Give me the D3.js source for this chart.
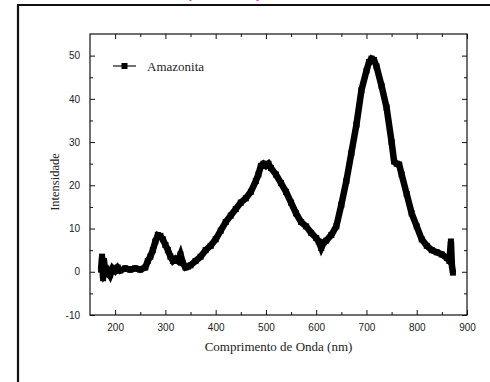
<!DOCTYPE html>
<html>
<head>
<meta charset="utf-8">
<script src="https://cdn.jsdelivr.net/npm/d3@7"></script>
<style>
  body { margin: 0; background: #fff; }
  svg { display: block; }
</style>
</head>
<body>
<div id="chart"></div>
<script>
// --- data
const wavelength = [172, 174, 176, 178, 180, 185, 190, 195, 200, 205, 210, 220, 230, 240, 250, 260, 265, 270, 275, 280,
  285, 290, 295, 300, 305, 310, 315, 320, 325, 330, 335, 340, 345, 350, 360, 370, 380, 390, 400, 410,
  420, 430, 440, 450, 460, 470, 480, 485, 490, 495, 500, 505, 510, 520, 530, 540, 550, 560, 570, 580,
  590, 600, 605, 610, 615, 620, 630, 640, 650, 660, 670, 680, 690, 700, 705, 710, 715, 720, 730, 740,
  750, 755, 760, 765, 770, 780, 790, 800, 810, 820, 830, 840, 850, 860, 865, 868, 870, 872];
const intensity = [0.5, 3.5, -1.5, 2.5, -0.5, 0.3, -0.8, 0.8, 0.2, 1.0, 0.3, 0.8, 0.5, 0.8, 0.5, 1.0, 2.5, 3.5, 5.0, 7.0,
  8.5, 8.3, 7.5, 6.2, 5.0, 3.5, 2.5, 3.0, 2.5, 4.0, 2.0, 1.0, 1.2, 1.5, 2.5, 3.5, 5.0, 6.0, 7.5, 9.5,
  11.5, 13.0, 14.5, 16.0, 17.0, 18.5, 21.0, 22.5, 24.5, 25.0, 24.5, 25.0, 24.0, 22.5, 20.5, 18.5, 16.0, 13.5, 11.5, 10.5,
  9.0, 7.8, 7.0, 5.5, 6.8, 7.2, 8.5, 10.5, 15.5, 21.0, 27.5, 34.0, 42.0, 46.5, 48.5, 49.3, 49.0, 47.5, 43.0, 38.0,
  30.0, 25.5, 25.0, 24.8, 22.5, 18.0, 13.5, 10.5, 7.5, 6.0, 5.0, 4.5, 4.0, 3.2, 2.5, 7.0, 1.5, -0.2];
const seriesName = 'Amazonita';
const xTicks = [200, 300, 400, 500, 600, 700, 800, 900];
const yTicks = [-10, 0, 10, 20, 30, 40, 50];
const xTitle = 'Comprimento de Onda (nm)';
const yTitle = 'Intensidade';

// --- setup dimensions
const width = 490;
const height = 382;
const plot = { left: 90, right: 467, top: 34, bottom: 315 };

const svg = d3.select('#chart')
  .append('svg')
  .attr('width', width)
  .attr('height', height);

// --- outer page frame (cut by the window)
svg.append('path')
  .attr('d', `M18,${height} L18,5 L${width},5`)
  .attr('fill', 'none')
  .attr('stroke', '#111')
  .attr('stroke-width', 2.2);

// title above the window, only its lowest pixels show
svg.append('text')
  .attr('x', 265)
  .attr('y', -2)
  .attr('text-anchor', 'middle')
  .attr('font-family', 'Liberation Sans, Arial, sans-serif')
  .attr('font-size', 14)
  .attr('font-weight', 'bold')
  .attr('fill', '#d63bd6')
  .text('Espectroscopia - Amazonita');

// --- scales
const x = d3.scaleLinear().domain([150, 900]).range([plot.left, plot.right]);
const y = d3.scaleLinear().domain([-10, 55]).range([plot.bottom, plot.top]);

const tickFont = 'Liberation Sans, Arial, sans-serif';
const titleFont = 'Liberation Serif, Times New Roman, serif';

// --- axes (ticks inside, mirrored)
const axisStyle = (g) => {
  g.select('.domain').remove();
  g.selectAll('.tick line').attr('stroke', '#111');
  g.selectAll('text').attr('font-family', tickFont).attr('font-size', 10).attr('fill', '#222');
};

const xMinor = d3.range(250, 900, 100);
const yMinor = d3.range(-5, 55, 10);
const plain = d => String(d);

// bottom
svg.append('g')
  .attr('transform', `translate(0,${plot.bottom})`)
  .call(d3.axisBottom(x).tickValues(xTicks).tickFormat(plain).tickSizeInner(-5).tickSizeOuter(0).tickPadding(9))
  .call(axisStyle);
svg.append('g')
  .attr('transform', `translate(0,${plot.bottom})`)
  .call(d3.axisBottom(x).tickValues(xMinor).tickSizeInner(-3).tickSizeOuter(0).tickFormat(''))
  .call(axisStyle);
// top
svg.append('g')
  .attr('transform', `translate(0,${plot.top})`)
  .call(d3.axisTop(x).tickValues(xTicks).tickSizeInner(-5).tickSizeOuter(0).tickFormat(''))
  .call(axisStyle);
svg.append('g')
  .attr('transform', `translate(0,${plot.top})`)
  .call(d3.axisTop(x).tickValues(xMinor).tickSizeInner(-3).tickSizeOuter(0).tickFormat(''))
  .call(axisStyle);
// left
svg.append('g')
  .attr('transform', `translate(${plot.left},0)`)
  .call(d3.axisLeft(y).tickValues(yTicks).tickFormat(plain).tickSizeInner(-5).tickSizeOuter(0).tickPadding(10))
  .call(axisStyle);
svg.append('g')
  .attr('transform', `translate(${plot.left},0)`)
  .call(d3.axisLeft(y).tickValues(yMinor).tickSizeInner(-3).tickSizeOuter(0).tickFormat(''))
  .call(axisStyle);
// right
svg.append('g')
  .attr('transform', `translate(${plot.right},0)`)
  .call(d3.axisRight(y).tickValues(yTicks).tickSizeInner(-5).tickSizeOuter(0).tickFormat(''))
  .call(axisStyle);
svg.append('g')
  .attr('transform', `translate(${plot.right},0)`)
  .call(d3.axisRight(y).tickValues(yMinor).tickSizeInner(-3).tickSizeOuter(0).tickFormat(''))
  .call(axisStyle);

// frame
svg.append('rect')
  .attr('x', plot.left)
  .attr('y', plot.top)
  .attr('width', plot.right - plot.left)
  .attr('height', plot.bottom - plot.top)
  .attr('fill', 'none')
  .attr('stroke', '#111')
  .attr('stroke-width', 1.2);

// --- axis titles
svg.append('text')
  .attr('x', (plot.left + plot.right) / 2)
  .attr('y', 351)
  .attr('text-anchor', 'middle')
  .attr('font-family', titleFont)
  .attr('font-size', 13)
  .attr('fill', '#222')
  .text(xTitle);

svg.append('text')
  .attr('transform', 'translate(59,182) rotate(-90)')
  .attr('text-anchor', 'middle')
  .attr('font-family', titleFont)
  .attr('font-size', 12.5)
  .attr('fill', '#222')
  .text(yTitle);

// --- the series
const points = wavelength.map((w, i) => ({ w, v: intensity[i] }));

const line = d3.line()
  .x(d => x(d.w))
  .y(d => y(d.v));

svg.append('path')
  .datum(points)
  .attr('d', line)
  .attr('fill', 'none')
  .attr('stroke', '#000')
  .attr('stroke-width', 6.5)
  .attr('stroke-linejoin', 'miter');

const sq = 6;
svg.append('g')
  .selectAll('rect')
  .data(points)
  .join('rect')
    .attr('x', d => x(d.w) - sq / 2)
    .attr('y', d => y(d.v) - sq / 2)
    .attr('width', sq)
    .attr('height', sq)
    .attr('fill', '#000');

// --- legend
const legend = svg.append('g').attr('transform', 'translate(113,66)');
legend.append('line')
  .attr('x1', 0).attr('x2', 23)
  .attr('y1', 0).attr('y2', 0)
  .attr('stroke', '#111')
  .attr('stroke-width', 1.2);
legend.append('rect')
  .attr('x', 11.5 - 3).attr('y', -3)
  .attr('width', 6).attr('height', 6)
  .attr('fill', '#000');
legend.append('text')
  .attr('x', 34)
  .attr('y', 4.5)
  .attr('font-family', titleFont)
  .attr('font-size', 13)
  .attr('fill', '#222')
  .text(seriesName);
</script>
</body>
</html>
